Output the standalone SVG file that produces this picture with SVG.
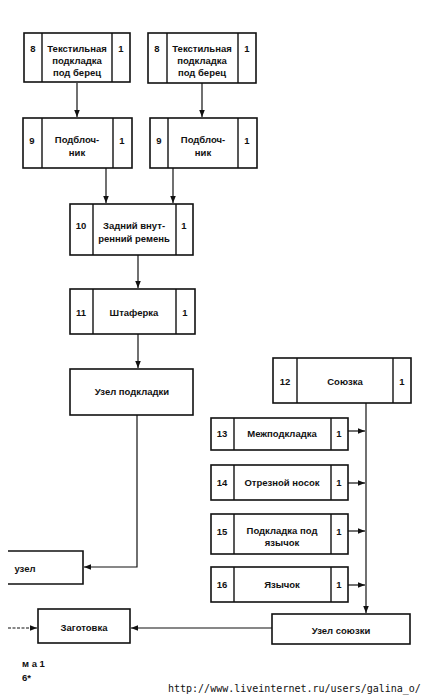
<svg xmlns="http://www.w3.org/2000/svg" width="426" height="700" viewBox="0 0 426 700">
<defs>
<marker id="ah" viewBox="0 0 10 10" refX="10" refY="5" markerWidth="7" markerHeight="7" markerUnits="userSpaceOnUse" orient="auto"><path d="M0,1 L10,5 L0,9 Z" fill="#111"/></marker>
</defs>
<style>
.b{fill:#fff;stroke:#111;stroke-width:1.6}
.d{stroke:#111;stroke-width:1.4}
.t{font-family:"Liberation Sans",Arial,sans-serif;font-size:9.5px;font-weight:bold;fill:#111;text-anchor:middle}
.c{fill:none;stroke:#111;stroke-width:1.2}
.m{font-family:"DejaVu Sans Mono",monospace;font-size:10px;fill:#111}
</style>
<rect width="426" height="700" fill="#fff"/>
<g id="connectors">
<line class="c" x1="77" y1="83" x2="77" y2="117" marker-end="url(#ah)"/>
<line class="c" x1="202" y1="83" x2="202" y2="117" marker-end="url(#ah)"/>
<line class="c" x1="106" y1="168" x2="106" y2="203" marker-end="url(#ah)"/>
<line class="c" x1="173" y1="168" x2="173" y2="203" marker-end="url(#ah)"/>
<line class="c" x1="138" y1="255" x2="138" y2="288" marker-end="url(#ah)"/>
<line class="c" x1="138" y1="334" x2="138" y2="368" marker-end="url(#ah)"/>
<path class="c" d="M137,415 V567 H84" marker-end="url(#ah)"/>
<line class="c" x1="366" y1="403" x2="366" y2="613" marker-end="url(#ah)"/>
<line class="c" x1="348" y1="431" x2="365" y2="431" marker-end="url(#ah)"/>
<line class="c" x1="348" y1="483" x2="365" y2="483" marker-end="url(#ah)"/>
<line class="c" x1="348" y1="531" x2="365" y2="531" marker-end="url(#ah)"/>
<line class="c" x1="348" y1="585" x2="365" y2="585" marker-end="url(#ah)"/>
<line class="c" x1="272" y1="628" x2="131" y2="628" marker-end="url(#ah)"/>
<line class="c" x1="8" y1="628" x2="37" y2="628" stroke-dasharray="3,1.5" marker-end="url(#ah)"/>
</g>
<g id="n8a">
<rect class="b" x="24" y="33" width="106" height="49"/>
<line class="d" x1="42" y1="33" x2="42" y2="82"/><line class="d" x1="112" y1="33" x2="112" y2="82"/>
<text class="t" x="33" y="52">8</text><text class="t" x="121" y="52">1</text>
<text class="t" x="77" y="52">Текстильная</text><text class="t" x="77" y="64">подкладка</text><text class="t" x="77" y="76">под берец</text>
</g>
<g id="n8b">
<rect class="b" x="148" y="33" width="108" height="50"/>
<line class="d" x1="167" y1="33" x2="167" y2="83"/><line class="d" x1="238" y1="33" x2="238" y2="83"/>
<text class="t" x="157" y="52">8</text><text class="t" x="247" y="52">1</text>
<text class="t" x="202" y="52">Текстильная</text><text class="t" x="202" y="64">подкладка</text><text class="t" x="202" y="76">под берец</text>
</g>
<g id="n9a">
<rect class="b" x="23" y="118" width="109" height="50"/>
<line class="d" x1="42" y1="118" x2="42" y2="168"/><line class="d" x1="113" y1="118" x2="113" y2="168"/>
<text class="t" x="32" y="144">9</text><text class="t" x="122" y="144">1</text>
<text class="t" x="77" y="143">Подблоч-</text><text class="t" x="77" y="156">ник</text>
</g>
<g id="n9b">
<rect class="b" x="150" y="118" width="107" height="50"/>
<line class="d" x1="168" y1="118" x2="168" y2="168"/><line class="d" x1="238" y1="118" x2="238" y2="168"/>
<text class="t" x="159" y="144">9</text><text class="t" x="247" y="144">1</text>
<text class="t" x="203" y="143">Подблоч-</text><text class="t" x="203" y="156">ник</text>
</g>
<g id="n10">
<rect class="b" x="70" y="204" width="123" height="51"/>
<line class="d" x1="93" y1="204" x2="93" y2="255"/><line class="d" x1="176" y1="204" x2="176" y2="255"/>
<text class="t" x="81" y="229">10</text><text class="t" x="184" y="229">1</text>
<text class="t" x="134" y="229">Задний внут-</text><text class="t" x="134" y="242">ренний ремень</text>
</g>
<g id="n11">
<rect class="b" x="70" y="289" width="125" height="45"/>
<line class="d" x1="93" y1="289" x2="93" y2="334"/><line class="d" x1="176" y1="289" x2="176" y2="334"/>
<text class="t" x="81" y="316">11</text><text class="t" x="185" y="316">1</text>
<text class="t" x="134" y="316">Штаферка</text>
</g>
<g id="n-uzel-podkladki">
<rect class="b" x="70" y="369" width="123" height="46"/>
<text class="t" x="132" y="395">Узел подкладки</text>
</g>
<g id="n12">
<rect class="b" x="273" y="358" width="138" height="45"/>
<line class="d" x1="297" y1="358" x2="297" y2="403"/><line class="d" x1="393" y1="358" x2="393" y2="403"/>
<text class="t" x="285" y="385">12</text><text class="t" x="402" y="385">1</text>
<text class="t" x="345" y="385">Союзка</text>
</g>
<g id="n13">
<rect class="b" x="211" y="418" width="137" height="32"/>
<line class="d" x1="234" y1="418" x2="234" y2="450"/><line class="d" x1="331" y1="418" x2="331" y2="450"/>
<text class="t" x="222" y="437">13</text><text class="t" x="339" y="437">1</text>
<text class="t" x="282" y="437">Межподкладка</text>
</g>
<g id="n14">
<rect class="b" x="211" y="465" width="137" height="35"/>
<line class="d" x1="234" y1="465" x2="234" y2="500"/><line class="d" x1="331" y1="465" x2="331" y2="500"/>
<text class="t" x="222" y="486">14</text><text class="t" x="339" y="486">1</text>
<text class="t" x="282" y="486">Отрезной носок</text>
</g>
<g id="n15">
<rect class="b" x="211" y="514" width="137" height="40"/>
<line class="d" x1="234" y1="514" x2="234" y2="554"/><line class="d" x1="331" y1="514" x2="331" y2="554"/>
<text class="t" x="222" y="535">15</text><text class="t" x="339" y="535">1</text>
<text class="t" x="282" y="534">Подкладка под</text><text class="t" x="282" y="546">язычок</text>
</g>
<g id="n16">
<rect class="b" x="211" y="567" width="137" height="35"/>
<line class="d" x1="234" y1="567" x2="234" y2="602"/><line class="d" x1="331" y1="567" x2="331" y2="602"/>
<text class="t" x="222" y="588">16</text><text class="t" x="339" y="588">1</text>
<text class="t" x="282" y="588">Язычок</text>
</g>
<g id="n-uzel">
<path d="M8,551 H83 V584 H8" fill="#fff" stroke="#111" stroke-width="1.6"/>
<text class="t" x="25" y="572">узел</text>
</g>
<g id="n-zagotovka">
<rect class="b" x="38" y="609" width="92" height="34"/>
<text class="t" x="84" y="631">Заготовка</text>
</g>
<g id="n-uzel-soyuzki">
<rect class="b" x="272" y="614" width="138" height="30"/>
<text class="t" x="341" y="634">Узел союзки</text>
</g>
<text class="t" x="22" y="667" style="text-anchor:start">м а  1</text>
<text class="t" x="22" y="681" style="text-anchor:start">6*</text>
<text class="m" x="168" y="692">http://www.liveinternet.ru/users/galina_o/</text>
</svg>
